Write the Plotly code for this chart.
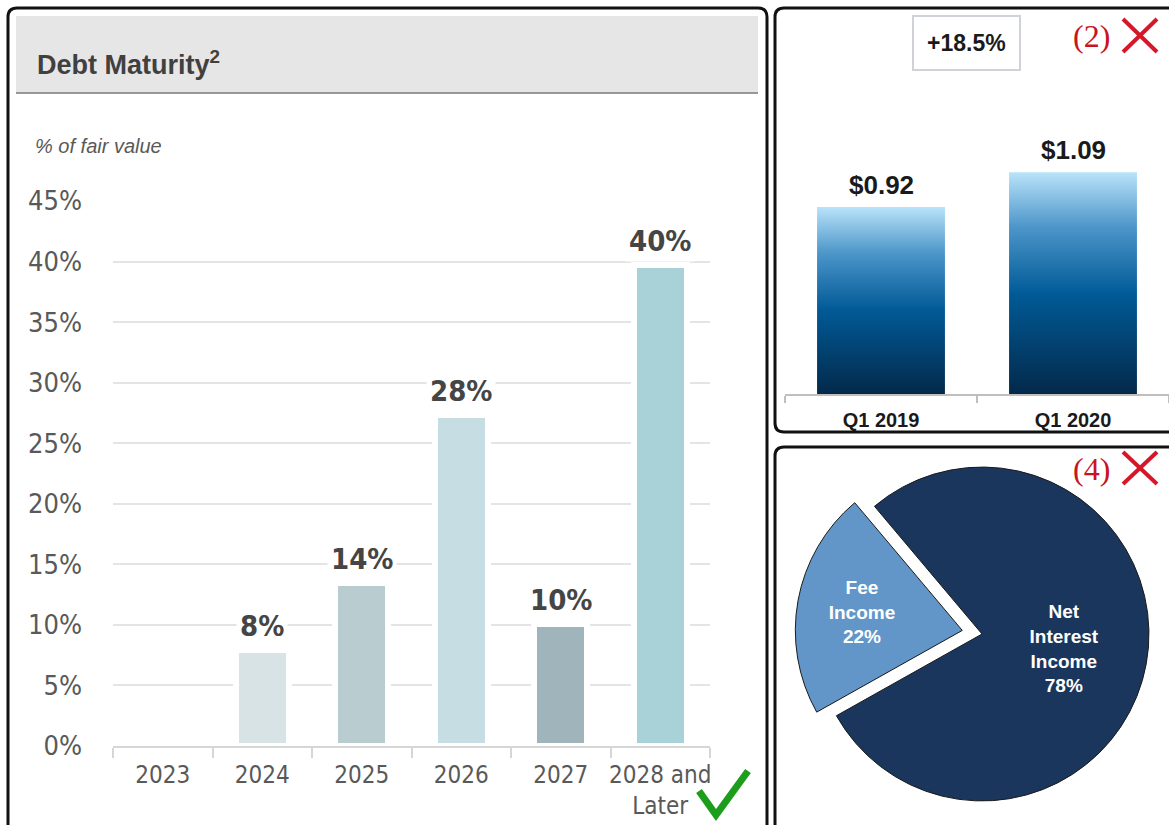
# Recreate the composite slide: debt maturity bars, EPS bars, income mix pie.
import plotly.graph_objects as go

W, H = 1169, 825

# ---- data ----
maturity_years = ["2023", "2024", "2025", "2026", "2027", "2028 and<br>Later"]
maturity_pct = [0, 7.9, 13.5, 27.3, 10.1, 39.7]
maturity_labels = ["", "8%", "14%", "28%", "10%", "40%"]
maturity_colors = ["#d7e3e5", "#d7e3e5", "#b9cdd1", "#c6dee3", "#9fb5bb", "#a8d1d8"]

eps_periods = ["Q1 2019", "Q1 2020"]
eps_values = [0.92, 1.09]
eps_labels = ["$0.92", "$1.09"]
eps_growth = "+18.5%"

income_labels = ["Fee<br>Income", "Net<br>Interest<br>Income"]
income_share = [22, 78]
income_colors = ["#6396c8", "#1b365d"]

NARROW = "Liberation Sans Narrow, DejaVu Sans Condensed, Arial Narrow, Liberation Sans, sans-serif"
SANS = "Liberation Sans, Arial, sans-serif"
SERIF = "Liberation Serif, DejaVu Serif, serif"


def px(x):
    return x / W


def py(y):
    return 1 - y / H


def rounded_box(x0, y0, x1, y1, r=9):
    # rounded rectangle in paper coords (arcs not allowed, use Q)
    pts = [
        f"M {px(x0 + r)},{py(y0)}",
        f"L {px(x1 - r)},{py(y0)}",
        f"Q {px(x1)},{py(y0)} {px(x1)},{py(y0 + r)}",
        f"L {px(x1)},{py(y1 - r)}",
        f"Q {px(x1)},{py(y1)} {px(x1 - r)},{py(y1)}",
        f"L {px(x0 + r)},{py(y1)}",
        f"Q {px(x0)},{py(y1)} {px(x0)},{py(y1 - r)}",
        f"L {px(x0)},{py(y0 + r)}",
        f"Q {px(x0)},{py(y0)} {px(x0 + r)},{py(y0)} Z",
    ]
    return dict(type="path", xref="paper", yref="paper", path=" ".join(pts),
                line=dict(color="#111111", width=3), fillcolor="rgba(0,0,0,0)")


fig = go.Figure()

# ---- left: debt maturity ----
fig.add_trace(go.Bar(
    x=maturity_years, y=maturity_pct, width=0.53,
    marker=dict(color=maturity_colors, line=dict(color="white", width=6)),
    xaxis="x", yaxis="y", showlegend=False, hoverinfo="skip",
))

# ---- right top: EPS bars with vertical gradient ----
half = 0.333
for i, v in enumerate(eps_values):
    fig.add_trace(go.Scatter(
        x=[i - half, i - half, i + half, i + half, i - half],
        y=[0, v, v, 0, 0],
        mode="lines", line=dict(width=0), fill="toself",
        fillgradient=dict(type="vertical", colorscale=[
            [0, "#03294a"], [0.45, "#015a97"], [0.75, "#4b95c9"], [1, "#b9e3f9"]]),
        xaxis="x2", yaxis="y2", showlegend=False, hoverinfo="skip",
    ))

# ---- right bottom: income pie ----
fig.add_trace(go.Pie(
    labels=income_labels, values=income_share, sort=False,
    direction="clockwise", rotation=-119.3, pull=[0.12, 0],
    marker=dict(colors=income_colors, line=dict(color="#1a1a1a", width=1)),
    texttemplate="%{label}<br>%{value}%", textposition="inside",
    insidetextorientation="horizontal",
    insidetextfont=dict(family=SANS, size=19, color="white", weight="bold"),
    domain=dict(x=[px(795), 1.0], y=[py(821), py(447)]),
    showlegend=False, hoverinfo="skip",
))

annotations = []
# bar value labels (category axis -> use the serial index)
for i, (v, t) in enumerate(zip(maturity_pct, maturity_labels)):
    if t:
        annotations.append(dict(
            x=i, y=v, xref="x", yref="y", text=t, showarrow=False,
            yanchor="bottom", yshift=3, bgcolor="white", borderpad=3,
            font=dict(family=NARROW, size=29, color="#454545", weight="bold"),
        ))
for i, (v, t) in enumerate(zip(eps_values, eps_labels)):
    annotations.append(dict(
        x=i, y=v, xref="x2", yref="y2", text=t, showarrow=False,
        yanchor="bottom", yshift=5,
        font=dict(family=SANS, size=26, color="#1a1a1a", weight="bold"),
    ))

annotations += [
    dict(x=px(35), y=py(63), xref="paper", yref="paper", xanchor="left",
         yanchor="middle", showarrow=False, text="Debt Maturity<sup>2</sup>",
         font=dict(family=SANS, size=27, color="#404040", weight="bold")),
    dict(x=px(33), y=py(146), xref="paper", yref="paper", xanchor="left",
         yanchor="middle", showarrow=False, text="<i>% of fair value</i>",
         font=dict(family=SANS, size=20, color="#595959")),
    dict(x=px(966), y=py(43), xref="paper", yref="paper", showarrow=False,
         xanchor="center", yanchor="middle",
         text=f"<b>{eps_growth}</b>", bgcolor="white", bordercolor="#cfd2d6",
         borderwidth=2, borderpad=13,
         font=dict(family=SANS, size=23, color="#1a1a1a")),
    dict(x=px(1091), y=py(36), xref="paper", yref="paper", showarrow=False,
         xanchor="center", yanchor="middle",
         text="(2)", font=dict(family=SERIF, size=32, color="#c8141e")),
    dict(x=px(1091), y=py(469), xref="paper", yref="paper", showarrow=False,
         xanchor="center", yanchor="middle",
         text="(4)", font=dict(family=SERIF, size=32, color="#c8141e")),
]

red = dict(color="#d6172a", width=4)
shapes = [
    dict(type="rect", xref="paper", yref="paper", x0=px(16), x1=px(758),
         y0=py(93), y1=py(16), fillcolor="#e6e6e6", line=dict(width=0), layer="below"),
    dict(type="line", xref="paper", yref="paper", x0=px(16), x1=px(758),
         y0=py(93), y1=py(93), line=dict(color="#7a7a7a", width=1.5)),
    rounded_box(8, 8, 767, 840),
    rounded_box(775, 8, 1180, 432),
    rounded_box(775, 447, 1180, 840),
    # red crosses
    dict(type="line", xref="paper", yref="paper", x0=px(1123), x1=px(1157),
         y0=py(19), y1=py(52), line=red),
    dict(type="line", xref="paper", yref="paper", x0=px(1123), x1=px(1157),
         y0=py(52), y1=py(19), line=red),
    dict(type="line", xref="paper", yref="paper", x0=px(1123), x1=px(1157),
         y0=py(452), y1=py(484), line=red),
    dict(type="line", xref="paper", yref="paper", x0=px(1123), x1=px(1157),
         y0=py(484), y1=py(452), line=red),
    # green check mark
    dict(type="path", xref="paper", yref="paper",
         path=f"M {px(699)},{py(791)} L {px(716)},{py(815)} L {px(748)},{py(771)}",
         line=dict(color="#1c9e1c", width=7)),
]

fig.update_layout(
    width=W, height=H, margin=dict(l=0, r=0, t=0, b=0, autoexpand=False),
    paper_bgcolor="white", plot_bgcolor="white",
    font=dict(family=SANS, color="#595959"),
    bargap=0,
    xaxis=dict(domain=[px(113), px(710)], type="category", range=[-0.5, 5.5],
               automargin=False, tickangle=0,
               showline=True, linecolor="#d6d6d6", linewidth=2,
               ticks="outside", tickson="boundaries", ticklen=10,
               tickcolor="#d6d6d6", tickwidth=2, layer="above traces",
               tickfont=dict(family=NARROW, size=24, color="#595959"),
               ticklabelstandoff=6, showgrid=False, fixedrange=True),
    yaxis=dict(domain=[py(746), py(201)], range=[0, 45], dtick=5,
               automargin=False,
               ticksuffix="%", showgrid=True, gridcolor="#e4e4e4",
               gridwidth=2, zeroline=False, showline=False,
               tickfont=dict(family=NARROW, size=27, color="#595959"),
               ticklabelstandoff=30, fixedrange=True),
    xaxis2=dict(domain=[px(785), 1.0], range=[-0.5, 1.5], anchor="y2",
                automargin=False,
                tickvals=[0, 1], ticktext=[f"<b>{p}</b>" for p in eps_periods],
                showline=True, linecolor="#bfbfbf", linewidth=2,
                ticks="", showgrid=False, zeroline=False,
                minor=dict(tickvals=[-0.5, 0.5, 1.5], ticks="outside",
                           ticklen=7, tickcolor="#bfbfbf", tickwidth=2),
                tickfont=dict(family=SANS, size=20, color="#1a1a1a"),
                ticklabelstandoff=7, fixedrange=True),
    yaxis2=dict(domain=[py(394), py(150)], range=[0, 1.2], anchor="x2",
                automargin=False, visible=False, fixedrange=True),
    annotations=annotations,
    shapes=shapes,
)

# the page body has a default 8px margin; drop it so pixels line up
fig.write_html("out.html", config={"displayModeBar": False},
               post_script="document.body.style.margin='0';")
